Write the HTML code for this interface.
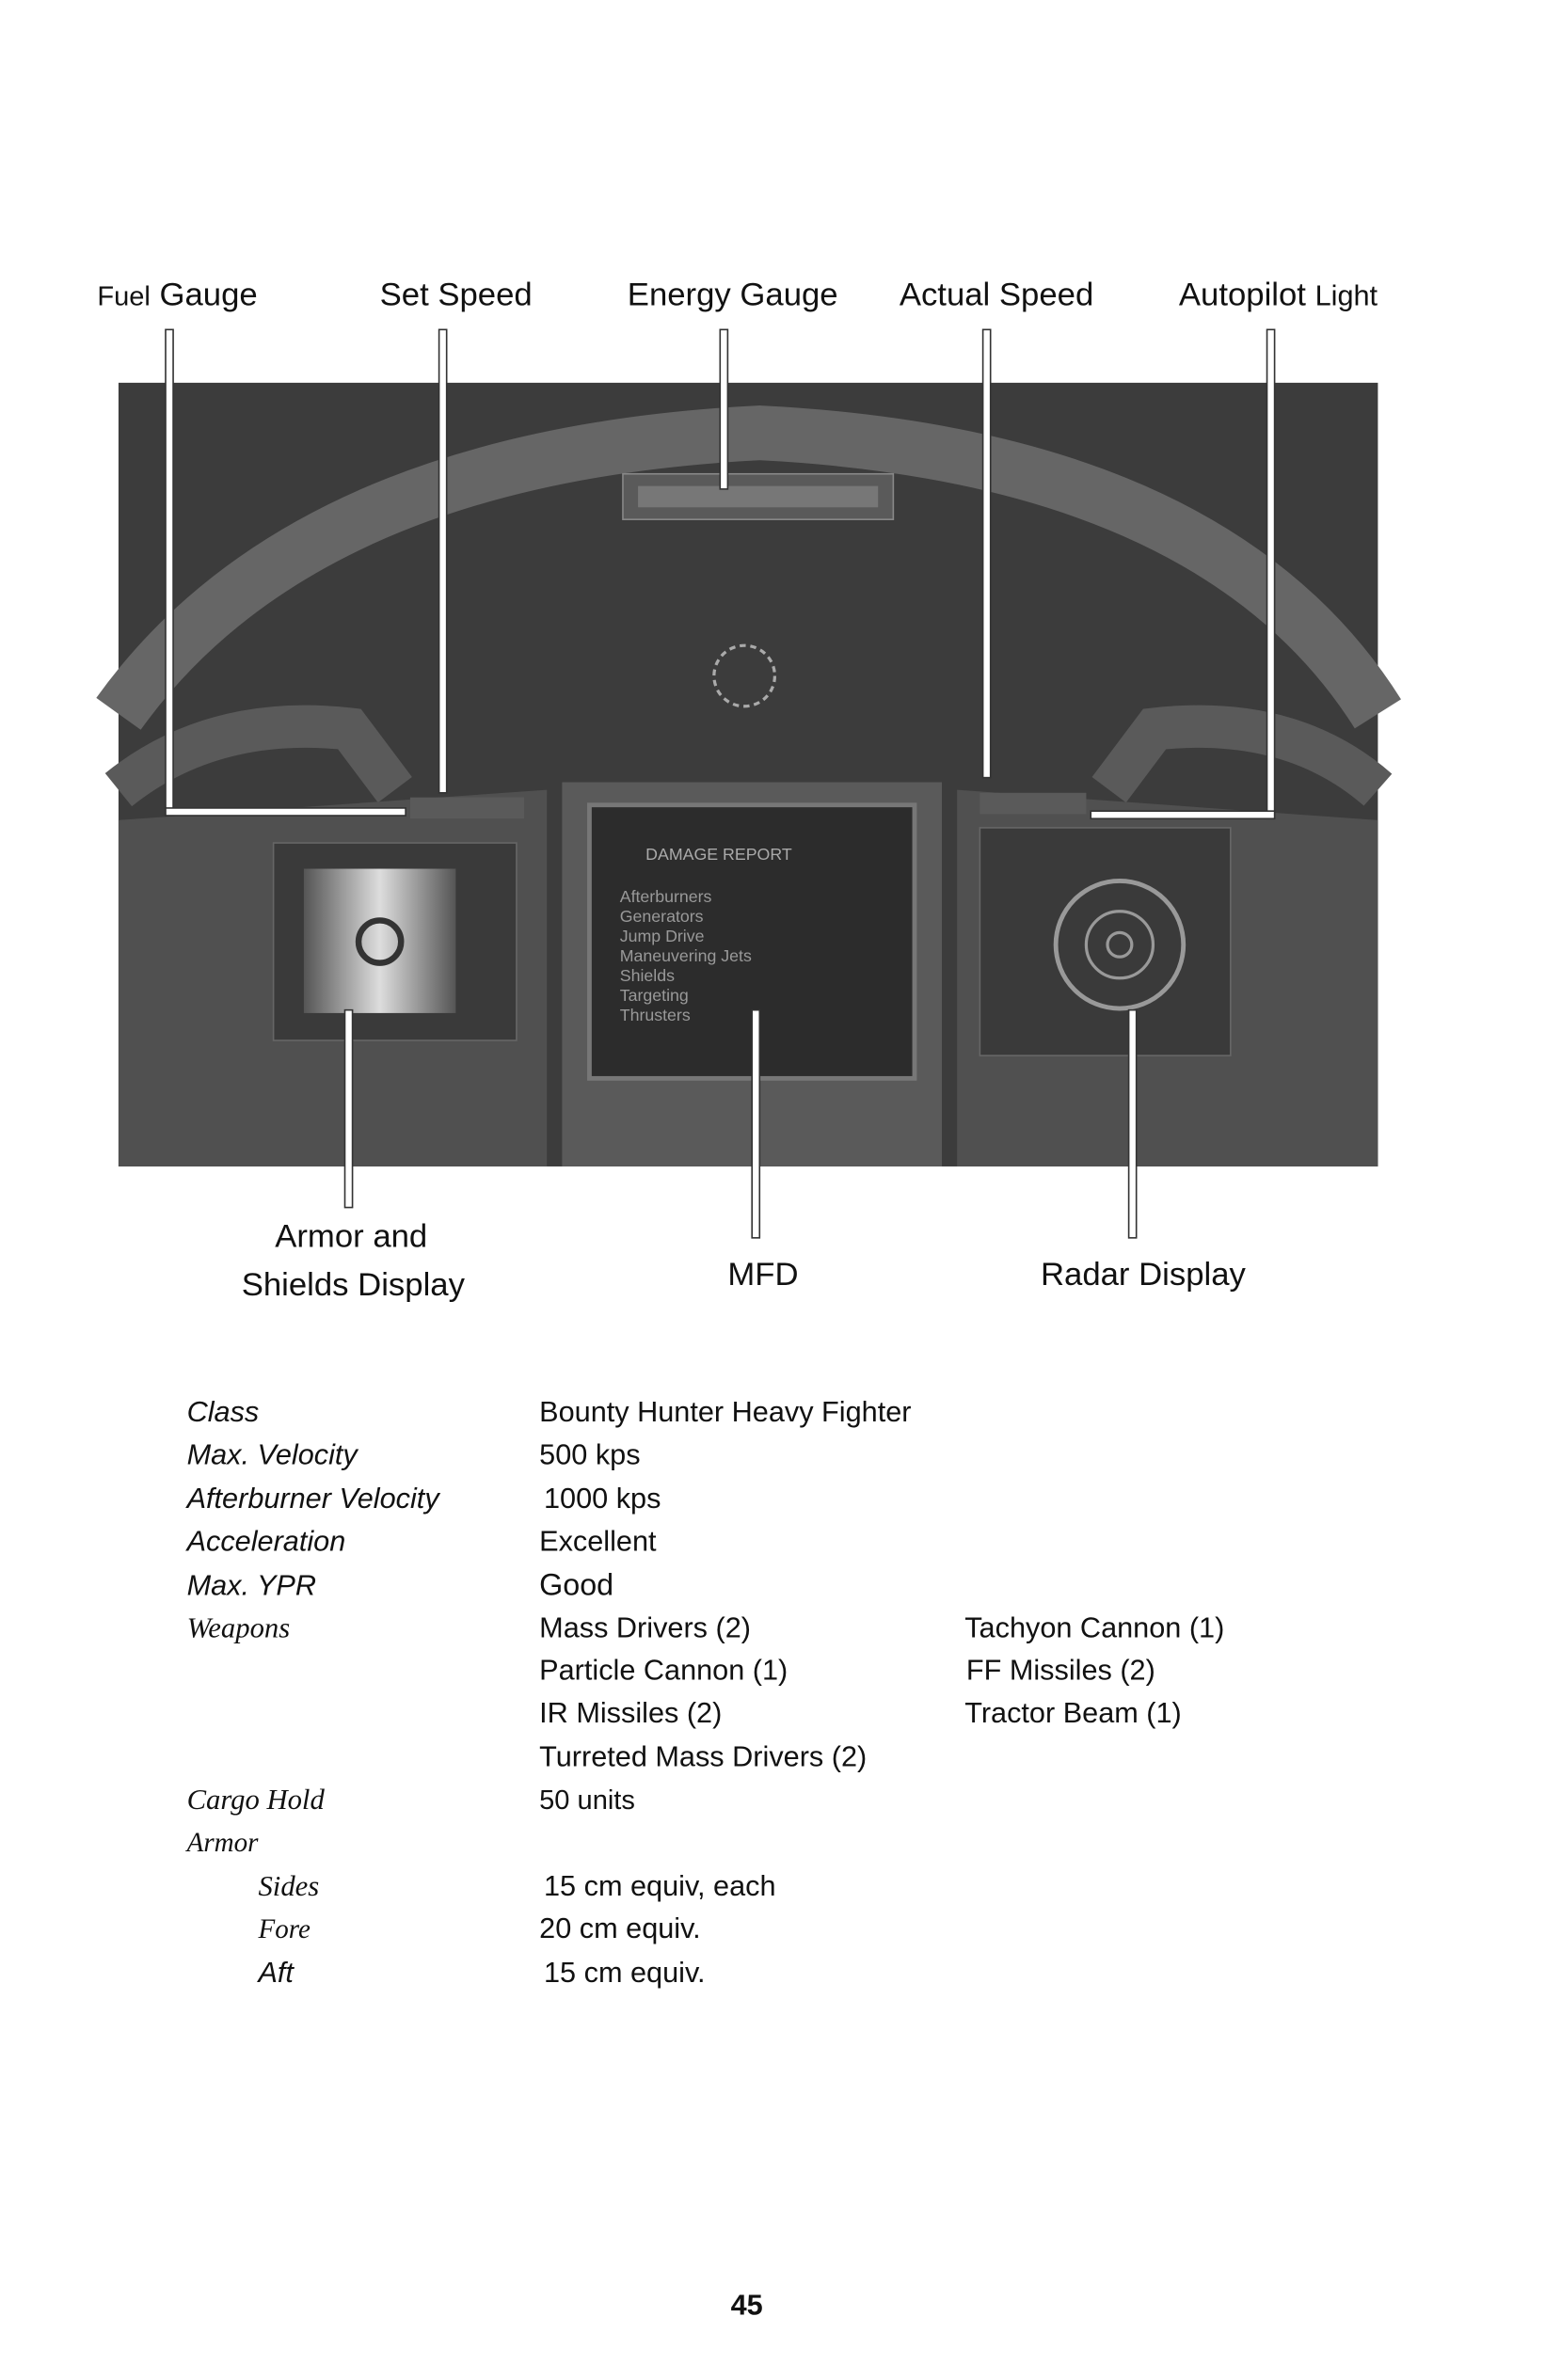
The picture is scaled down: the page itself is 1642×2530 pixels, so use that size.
<!DOCTYPE html>
<html><head><meta charset="utf-8"><style>
html,body{margin:0;padding:0;background:#fff;}
svg{display:block}
text{font-family:"Liberation Sans",sans-serif;fill:#111}
.s{font-family:"Liberation Serif",serif;font-style:italic}
</style></head><body>
<svg width="1642" height="2530" viewBox="0 0 1017 1567" preserveAspectRatio="none" xmlns="http://www.w3.org/2000/svg">
<defs>
<linearGradient id="pg" x1="0" x2="1"><stop offset="0" stop-color="#555"/><stop offset=".5" stop-color="#ddd"/><stop offset="1" stop-color="#555"/></linearGradient>
</defs>
<!-- cockpit -->
<rect x="78" y="252" width="829" height="516" fill="#3c3c3c"/>
<path d="M78 470 Q200 300 500 285 Q800 300 907 470" fill="none" stroke="#666" stroke-width="36"/>
<path d="M78 520 Q140 470 230 480 L260 520" fill="none" stroke="#5a5a5a" stroke-width="28"/>
<path d="M907 520 Q850 470 760 480 L730 520" fill="none" stroke="#5a5a5a" stroke-width="28"/>
<rect x="410" y="312" width="178" height="30" fill="#5a5a5a" stroke="#888"/>
<rect x="420" y="320" width="158" height="14" fill="#777"/>
<path d="M78 540 L360 520 L360 768 L78 768Z" fill="#505050"/>
<path d="M907 540 L630 520 L630 768 L907 768Z" fill="#505050"/>
<rect x="180" y="555" width="160" height="130" fill="#3a3a3a" stroke="#666"/>
<rect x="200" y="572" width="100" height="95" fill="url(#pg)"/>
<circle cx="250" cy="620" r="14" fill="none" stroke="#333" stroke-width="4"/>
<rect x="370" y="515" width="250" height="253" fill="#5a5a5a"/>
<rect x="388" y="530" width="214" height="180" fill="#2c2c2c" stroke="#777" stroke-width="3"/>
<g font-family="Liberation Mono" font-size="11">
<text x="425" y="566" style="fill:#aaa">DAMAGE REPORT</text>
<text x="408" y="594" style="fill:#999">Afterburners</text>
<text x="408" y="607" style="fill:#999">Generators</text>
<text x="408" y="620" style="fill:#999">Jump Drive</text>
<text x="408" y="633" style="fill:#999">Maneuvering Jets</text>
<text x="408" y="646" style="fill:#999">Shields</text>
<text x="408" y="659" style="fill:#999">Targeting</text>
<text x="408" y="672" style="fill:#999">Thrusters</text>
</g>
<rect x="645" y="545" width="165" height="150" fill="#3a3a3a" stroke="#666"/>
<circle cx="737" cy="622" r="42" fill="none" stroke="#999" stroke-width="3"/>
<circle cx="737" cy="622" r="22" fill="none" stroke="#999" stroke-width="2"/>
<circle cx="737" cy="622" r="8" fill="none" stroke="#999" stroke-width="2"/>
<circle cx="490" cy="445" r="20" fill="none" stroke="#aaa" stroke-width="2" stroke-dasharray="4 3"/>
<rect x="270" y="525" width="75" height="14" fill="#5a5a5a"/>
<rect x="645" y="522" width="70" height="14" fill="#5a5a5a"/>
<!-- connector lines -->
<g fill="#fff" stroke="#333" stroke-width="1">
<rect x="109" y="217" width="5" height="320"/>
<rect x="109" y="532" width="158" height="5"/>
<rect x="289" y="217" width="5" height="305"/>
<rect x="474" y="217" width="5" height="105"/>
<rect x="647" y="217" width="5" height="295"/>
<rect x="834" y="217" width="5" height="322"/>
<rect x="718" y="534" width="121" height="5"/>
<rect x="227" y="665" width="5" height="130"/>
<rect x="495" y="665" width="5" height="150"/>
<rect x="743" y="665" width="5" height="150"/>
</g>
<!-- labels -->
<g font-size="21.5">
<text x="64" y="201"><tspan font-size="18">Fuel</tspan> Gauge</text>
<text x="250" y="201">Set Speed</text>
<text x="413" y="201">Energy Gauge</text>
<text x="592" y="201">Actual Speed</text>
<text x="776" y="201">Autopilot <tspan font-size="19">Light</tspan></text>
<text x="181" y="821">Armor and</text>
<text x="159" y="853">Shields Display</text>
<text x="479" y="846">MFD</text>
<text x="685" y="846">Radar Display</text>
</g>
<!-- table -->
<g font-size="19">
<text x="123" y="936" font-style="italic">Class</text>
<text x="123" y="964" font-style="italic">Max. Velocity</text>
<text x="123" y="993" font-style="italic">Afterburner Velocity</text>
<text x="123" y="1021" font-style="italic">Acceleration</text>
<text x="123" y="1050" font-style="italic">Max. YPR</text>
<text class="s" x="123" y="1078">Weapons</text>
<text class="s" x="123" y="1191">Cargo Hold</text>
<text class="s" x="123" y="1219" font-size="18">Armor</text>
<text class="s" x="170" y="1248">Sides</text>
<text class="s" x="170" y="1276" font-size="18">Fore</text>
<text x="170" y="1305" font-style="italic">Aft</text>
<text x="355" y="936">Bounty Hunter Heavy Fighter</text>
<text x="355" y="964">500 kps</text>
<text x="358" y="993">1000 kps</text>
<text x="355" y="1021">Excellent</text>
<text x="355" y="1050" font-size="20">Good</text>
<text x="355" y="1078">Mass Drivers (2)</text>
<text x="355" y="1106">Particle Cannon (1)</text>
<text x="355" y="1134">IR Missiles (2)</text>
<text x="355" y="1163">Turreted Mass Drivers (2)</text>
<text x="355" y="1191" font-size="18">50  units</text>
<text x="358" y="1248">15 cm equiv, each</text>
<text x="355" y="1276">20 cm equiv.</text>
<text x="358" y="1305">15 cm equiv.</text>
<text x="635" y="1078">Tachyon Cannon (1)</text>
<text x="636" y="1106">FF Missiles (2)</text>
<text x="635" y="1134">Tractor Beam (1)</text>
</g>
<text x="481" y="1524" font-size="19" font-weight="bold">45</text>
</svg>
</body></html>
